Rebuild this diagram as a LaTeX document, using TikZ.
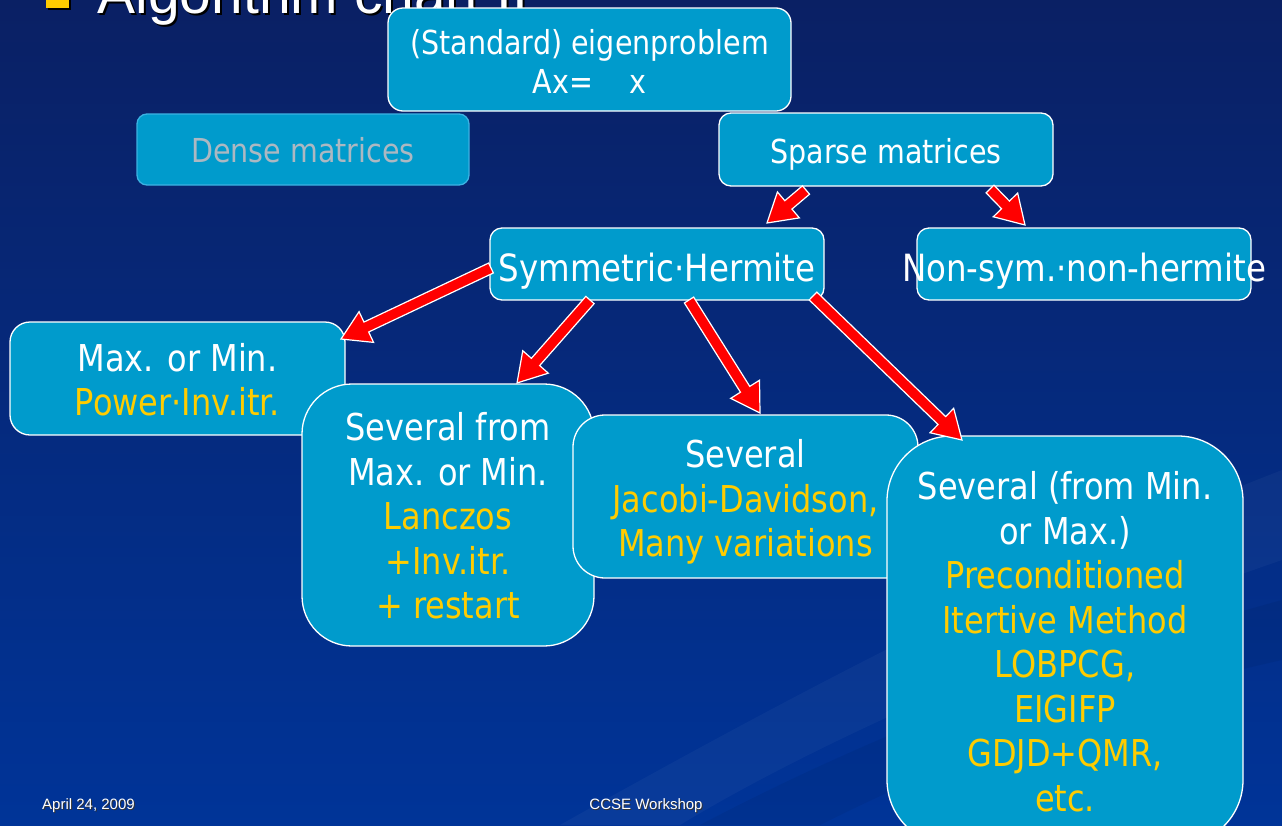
\documentclass[tikz,border=0pt]{standalone}
\usepackage{fontspec}
\setmainfont{DejaVu Sans}[FakeStretch=0.865]
\newfontfamily\arialfont{Liberation Sans}
\usetikzlibrary{calc}
\definecolor{boxfill}{RGB}{0,155,204}
\definecolor{ylw}{RGB}{255,204,0}
\definecolor{bgtop}{RGB}{10,32,100}
\definecolor{bgbot}{RGB}{0,52,152}
\definecolor{densetext}{RGB}{172,184,194}
\definecolor{denseborder}{RGB}{60,178,226}
\newcommand\yl[1]{{\color{ylw}#1}}
\tikzset{
  box/.style={draw=white, line width=1.3pt, fill=boxfill, inner sep=0pt, text=white, align=center},
  toprow/.style={font=\fontsize{33}{39}\selectfont},
  midrow/.style={font=\fontsize{37.5}{45}\selectfont},
  lowrow/.style={font=\fontsize{37}{44.5}\selectfont},
  redarrow/.style={fill=red, draw=white, line width=1.2pt, line join=miter},
  foot/.style={font=\arialfont\fontsize{15}{15}\selectfont, inner sep=0pt},
}
\newcommand\blockarrow[2]{%
  \path[redarrow] let \p1=($(#2)-(#1)$), \n1={atan2(\y1,\x1)}, \n2={veclen(\x1,\y1)} in
   [shift={(#1)}, rotate=\n1] (0pt,-5.5pt) -- ({\n2*1pt-28pt},-5.5pt) -- ({\n2*1pt-28pt},-17pt)
   -- ({\n2*1pt},0pt) -- ({\n2*1pt-28pt},17pt) -- ({\n2*1pt-28pt},5.5pt) -- (0pt,5.5pt) -- cycle;}
\begin{document}
\begin{tikzpicture}[x=1pt,y=-1pt]
\useasboundingbox (0,0) rectangle (1282,825);
\begin{scope}
\clip (0,0) rectangle (1282,825);
% background
\shade[top color=bgtop, bottom color=bgbot] (0,0) rectangle (1282,825);
\fill[white, opacity=0.035] (560,825) .. controls (800,690) and (1050,560) .. (1282,470)
  -- (1282,560) .. controls (1050,640) and (820,740) .. (680,825) -- cycle;
\fill[black, opacity=0.05] (700,825) .. controls (900,720) and (1100,650) .. (1282,600)
  -- (1282,660) .. controls (1100,700) and (950,760) .. (820,825) -- cycle;
% title (cut off at the top)
\node[anchor=base west, font=\arialfont\fontsize{57}{57}\selectfont, text=black] (titleshadow) at (96,15) {Algorithm chart II};
\node[anchor=base west, font=\arialfont\fontsize{57}{57}\selectfont, text=white] (title) at (94,13) {Algorithm chart II};
\fill[black] (48,-12) rectangle (71,10);
\fill[ylw] (46,-14) rectangle (69,8);
% boxes
\node[box, toprow, minimum width=403pt, minimum height=103pt, rounded corners=15pt] (eig) at (589.5,59.5)
  {\rule{0pt}{28pt}(Standard) eigenproblem\\Ax=\hspace{36pt}x};
\node[box, toprow, draw=denseborder, text=densetext, minimum width=332pt, minimum height=71pt, rounded corners=10pt] (dense) at (303,149.5)
  {\rule{0pt}{27pt}Dense matrices};
\node[box, toprow, minimum width=334pt, minimum height=73pt, rounded corners=12pt] (sparse) at (886,149.5)
  {\rule{0pt}{35pt}Sparse matrices};
\node[box, midrow, minimum width=334pt, minimum height=72pt, rounded corners=12pt] (sym) at (657,264)
  {\rule{0pt}{42pt}\makebox[0pt][c]{Symmetric·Hermite}};
\node[box, midrow, minimum width=334pt, minimum height=72pt, rounded corners=12pt] (nonsym) at (1084,264)
  {\rule{0pt}{42pt}\makebox[0pt][c]{Non-sym.·non-hermite}};
\node[box, lowrow, minimum width=335pt, minimum height=113pt, rounded corners=20pt] (maxmin) at (177.5,378.5)
  {\rule{0pt}{31pt}Max. or Min.\\\yl{Power·Inv.itr.}};
\node[box, lowrow, minimum width=292pt, minimum height=262pt, rounded corners=50pt] (sevfrom) at (448,515)
  {\rule{0pt}{30pt}Several from\\Max. or Min.\\\yl{Lanczos}\\\yl{+Inv.itr.}\\\yl{+ restart}};
\node[box, lowrow, minimum width=345pt, minimum height=163pt, rounded corners=32pt] (jacobi) at (745.5,496.5)
  {\rule{0pt}{39pt}Several\\\yl{Jacobi-Davidson,}\\\yl{Many variations}};
\node[box, lowrow, minimum width=356pt, minimum height=409pt, rounded corners=65pt] (big) at (1065,640.5)
  {\rule{0pt}{30pt}Several (from Min.\\or Max.)\\\yl{Preconditioned}\\\yl{Itertive Method}\\\yl{LOBPCG,}\\\yl{EIGIFP}\\\yl{GDJD+QMR,}\\\yl{etc.}};
% arrow end points
\coordinate (a1s) at (806,190);  \coordinate (a1e) at (767,223);
\coordinate (a2s) at (990,189);  \coordinate (a2e) at (1025,225);
\coordinate (a3s) at (491,268);  \coordinate (a3e) at (341,339);
\coordinate (a4s) at (590,300);  \coordinate (a4e) at (517,383);
\coordinate (a5s) at (689,300);  \coordinate (a5e) at (760,413);
\coordinate (a6s) at (813,296);  \coordinate (a6e) at (962,440);
\blockarrow{a1s}{a1e}
\blockarrow{a2s}{a2e}
\blockarrow{a3s}{a3e}
\blockarrow{a4s}{a4e}
\blockarrow{a5s}{a5e}
\blockarrow{a6s}{a6e}
% footer
\node[foot, anchor=west, text=black!80] (dateshadow) at (43,807) {April 24, 2009};
\node[foot, anchor=west, text=white] (date) at (42,806) {April 24, 2009};
\node[foot, text=black!80] (workshopshadow) at (647,807) {CCSE Workshop};
\node[foot, text=white] (workshop) at (646,806) {CCSE Workshop};
\end{scope}
\end{tikzpicture}
\end{document}
